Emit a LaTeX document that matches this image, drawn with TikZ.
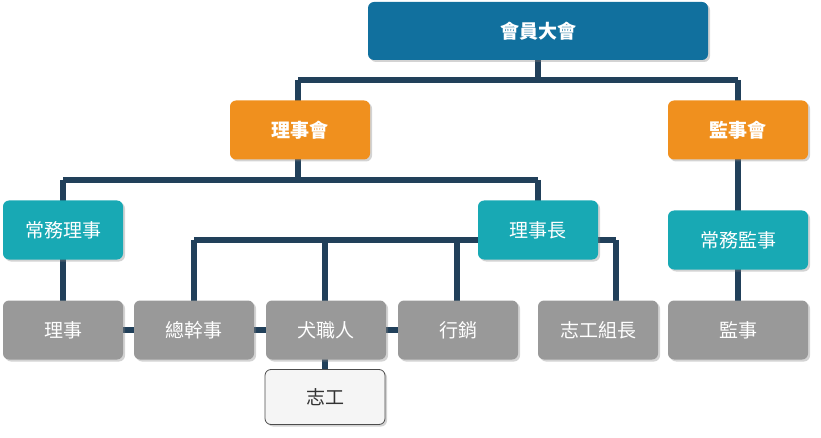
\documentclass[tikz,border=0pt]{standalone}
\usepackage{fontspec}
\newfontfamily\cjk{Noto Sans CJK TC}
\usetikzlibrary{shadows}
\definecolor{cblue}{HTML}{11709E}
\definecolor{corange}{HTML}{F0901E}
\definecolor{cteal}{HTML}{18A9B4}
\definecolor{cgray}{HTML}{999999}
\definecolor{cline}{HTML}{21405A}
\begin{document}
\begin{tikzpicture}[x=1pt,y=-1pt,
  box/.style={rounded corners=6pt,draw=none,text=white,font=\cjk\fontsize{19}{22}\selectfont,
    drop shadow={shadow xshift=2pt,shadow yshift=-2pt,opacity=0.35},inner sep=0pt},
  conn/.style={draw=cline,line width=6pt}]
\useasboundingbox (0,0) rectangle (821,438);
\newcommand\bx[7]{\node[box,fill=#6,minimum width=#3pt,minimum height=#4pt,#7] (#1) at (#2) {#5};}
\coordinate (a1) at (538,80); \coordinate (a2) at (298,80); \coordinate (a3) at (738,80);
\coordinate (b1) at (298,180); \coordinate (b2) at (63,180); \coordinate (b3) at (538,180);
\coordinate (c1) at (194,240); \coordinate (c2) at (325,240); \coordinate (c3) at (457,240); \coordinate (c4) at (616,240);
\draw[conn] (538,30) -- (a1) (a2) -- (a3) (a2) -- (298,130) (a3) -- (738,130);
\draw[conn] (298,130) -- (b1) (b2) -- (b3) (b2) -- (63,230) (b3) -- (538,230);
\draw[conn] (63,230) -- (63,330);
\draw[conn] (c1) -- (c4) (c1) -- (194,330) (c2) -- (325,330) (c3) -- (457,330) (c4) -- (616,330);
\draw[conn] (63,330) -- (458,330) (325,330) -- (325,397);
\draw[conn] (738,130) -- (738,330);
\bx{top}{538,31}{340}{58}{\textbf{會員大會}}{cblue}{}
\bx{lsh}{300,130}{140}{59}{\textbf{理事會}}{corange}{}
\bx{jsh}{738,130}{140}{59}{\textbf{監事會}}{corange}{}
\bx{cwl}{63,230}{120}{59}{常務理事}{cteal}{}
\bx{lsz}{538,230}{120}{59}{理事長}{cteal}{}
\bx{cwj}{738,240}{140}{59}{常務監事}{cteal}{}
\bx{ls}{63,330}{120}{59}{理事}{cgray}{}
\bx{zgs}{194,330}{120}{59}{總幹事}{cgray}{}
\bx{qzr}{326,330}{120}{59}{犬職人}{cgray}{}
\bx{xx}{458,330}{120}{59}{行銷}{cgray}{}
\bx{zgzz}{598,330}{120}{59}{志工組長}{cgray}{}
\bx{js}{738,330}{140}{59}{監事}{cgray}{}
\bx{zg}{325,397}{120}{55}{志工}{black!4}{draw=black!70,line width=0.8pt,text=black!80}
\end{tikzpicture}
\end{document}
